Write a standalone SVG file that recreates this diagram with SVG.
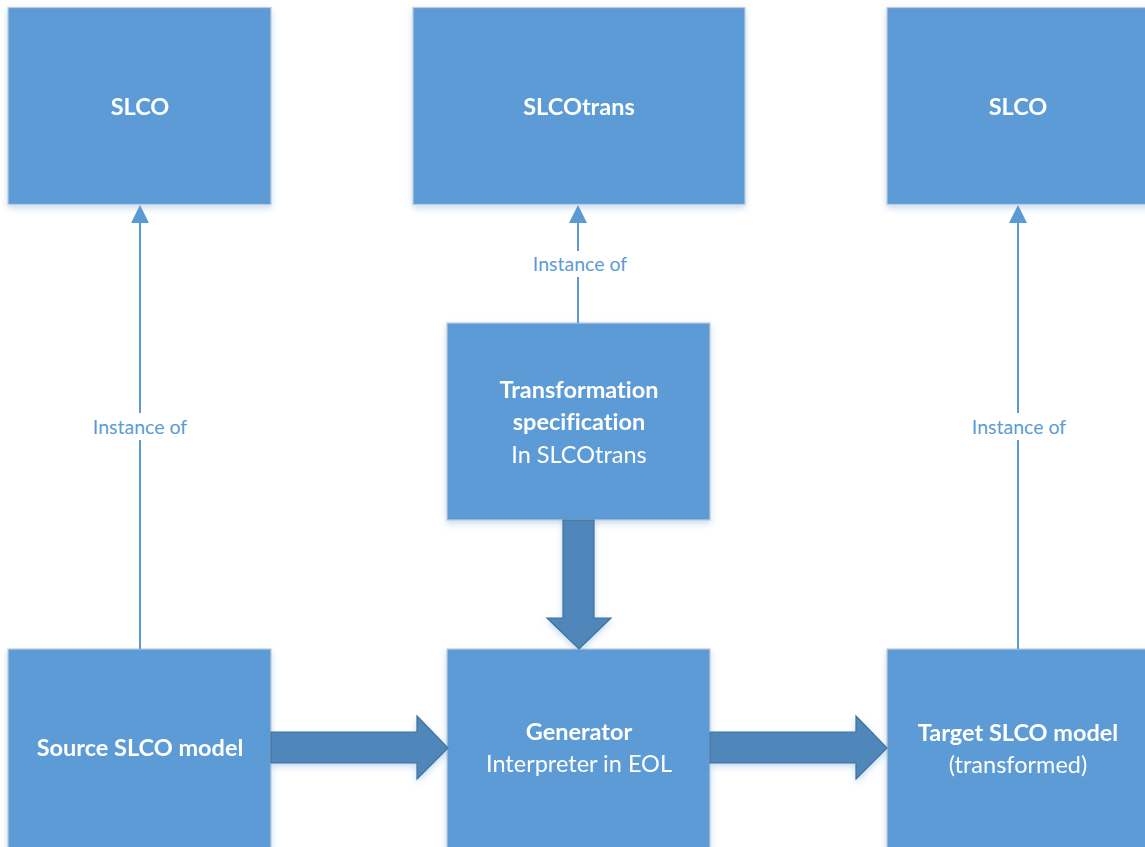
<svg xmlns="http://www.w3.org/2000/svg" width="1145" height="847" viewBox="0 0 1145 847">
  <style>
    .box { fill: #5B9BD5; stroke: #C4CCD6; stroke-width: 1.2; }
    .t { font-family: Lato, "Open Sans", "Liberation Sans", sans-serif; fill: #FFFFFF; text-anchor: middle; font-size: 23.5px; font-variant-ligatures: none; }
    .b { font-weight: bold; }
    .lbl { font-family: Lato, "Open Sans", "Liberation Sans", sans-serif; fill: #5B9BD5; text-anchor: middle; font-size: 19.5px; }
    .line { stroke: #5B9BD5; stroke-width: 2; fill: none; }
    .head { fill: #5B9BD5; }
    .block { fill: #4F87BB; stroke: #41719C; stroke-width: 1.2; }
  </style>
  <defs>
    <filter id="shadow" x="-10%" y="-10%" width="120%" height="125%">
      <feGaussianBlur in="SourceAlpha" stdDeviation="3"/>
      <feOffset dx="0" dy="3" result="blur"/>
      <feFlood flood-color="#5B9BD5" flood-opacity="0.35"/>
      <feComposite in2="blur" operator="in"/>
      <feMerge><feMergeNode/><feMergeNode in="SourceGraphic"/></feMerge>
    </filter>
  </defs>
  <rect width="1145" height="847" fill="#FFFFFF"/>

  <!-- metamodels -->
  <g id="slco-left" filter="url(#shadow)">
    <rect class="box" x="8" y="7.5" width="263" height="197"/>
    <text class="t b" x="140" y="115">SLCO</text>
  </g>
  <g id="slcotrans" filter="url(#shadow)">
    <rect class="box" x="413" y="7.5" width="332" height="197"/>
    <text class="t b" x="579" y="115">SLCOtrans</text>
  </g>
  <g id="slco-right" filter="url(#shadow)">
    <rect class="box" x="887" y="7.5" width="263" height="197"/>
    <text class="t b" x="1018" y="115">SLCO</text>
  </g>

  <!-- models -->
  <g id="transformation-spec" filter="url(#shadow)">
    <rect class="box" x="447" y="323" width="263" height="197"/>
    <text class="t b" x="579" y="398">Transformation</text>
    <text class="t b" x="579" y="430">specification</text>
    <text class="t" x="579" y="463">In SLCOtrans</text>
  </g>
  <g id="source-model" filter="url(#shadow)">
    <rect class="box" x="8" y="649" width="263" height="205"/>
    <text class="t b" x="140" y="756">Source SLCO model</text>
  </g>
  <g id="generator" filter="url(#shadow)">
    <rect class="box" x="447" y="649" width="263" height="205"/>
    <text class="t b" x="579" y="740">Generator</text>
    <text class="t" x="579" y="772">Interpreter in EOL</text>
  </g>
  <g id="target-model" filter="url(#shadow)">
    <rect class="box" x="887" y="649" width="263" height="205"/>
    <text class="t b" x="1018" y="741">Target SLCO model</text>
    <text class="t" x="1018" y="773">(transformed)</text>
  </g>

  <!-- connectors -->
  <g id="connectors">
    <!-- instance-of relations -->
    <path class="line" d="M140 649 V440 M140 413 V220"/>
    <polygon class="head" points="140,205 131,223 149,223"/>
    <text class="lbl" x="140" y="434">Instance of</text>

    <path class="line" d="M578 323 V277 M578 251 V220"/>
    <polygon class="head" points="578,205 569,223 587,223"/>
    <text class="lbl" x="580" y="271">Instance of</text>

    <path class="line" d="M1018 649 V440 M1018 413 V220"/>
    <polygon class="head" points="1018,205 1009,223 1027,223"/>
    <text class="lbl" x="1019" y="434">Instance of</text>

    <!-- data flow block arrows -->
    <g filter="url(#shadow)">
      <polygon class="block" points="563,520 594,520 594,618 611,618 579,649 547,618 563,618"/>
      <polygon class="block" points="271,732 417,732 417,716 448,748 417,779 417,763 271,763"/>
      <polygon class="block" points="710,732 856,732 856,716 887,748 856,779 856,763 710,763"/>
    </g>
  </g>
</svg>
